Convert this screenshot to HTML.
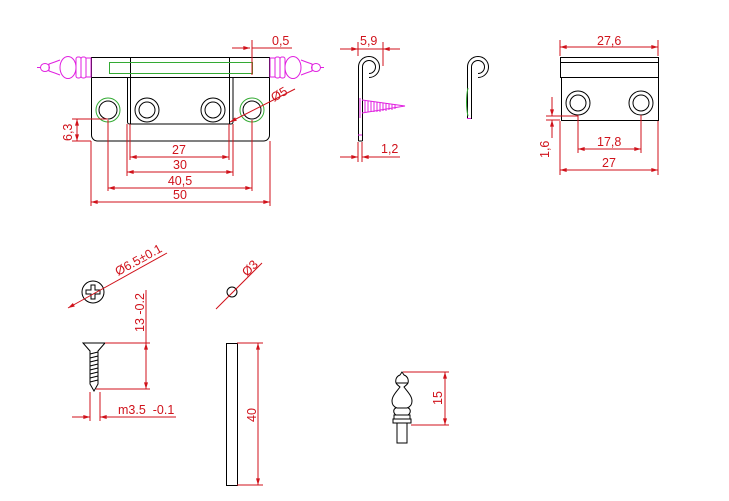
<!DOCTYPE html>
<html><head><meta charset="utf-8"><style>
html,body{margin:0;padding:0;background:#fff;}
svg{display:block;}
text{font-family:"Liberation Sans",sans-serif;font-size:12.5px;fill:#d0121b;}
.r{stroke:#d0121b;stroke-width:1;fill:none;}
.k{stroke:#000;stroke-width:1;fill:none;}
.g{stroke:#3a3;stroke-width:1;fill:none;}
.m{stroke:#e020e0;stroke-width:1;fill:none;}
</style></head><body>
<svg width="729" height="501" viewBox="0 0 729 501" xmlns="http://www.w3.org/2000/svg">
<defs>
<marker id="a" viewBox="0 0 10 6" refX="10" refY="3" markerWidth="8" markerHeight="4" orient="auto-start-reverse"><path d="M0,0L10,3L0,6z" fill="#d0121b"/></marker>
<g id="fin" class="m">
<rect x="86" y="58" width="5" height="19"/>
<rect x="81" y="57" width="5" height="21" rx="2"/>
<rect x="76" y="57" width="5" height="21" rx="2"/>
<ellipse cx="68" cy="67.5" rx="8" ry="11"/>
<path d="M60,60C55,62 52,63 49,64V71C52,72 55,73 60,75"/>
<ellipse cx="45" cy="67.5" rx="4.5" ry="4"/>
<path d="M40.5,67.5H37"/>
</g>
</defs>
<!-- main hinge -->
<g class="k">
<rect x="91.5" y="57.5" width="178" height="20"/>
<path d="M91.5,77.5V135a6,6 0 0 0 6,6H263.5a6,6 0 0 0 6,-6V77.5"/>
<path d="M127.5,78V122a2,2 0 0 0 2,2H231a2,2 0 0 0 2,-2V78"/>
<line x1="130.5" y1="57" x2="130.5" y2="124"/><line x1="229.5" y1="57" x2="229.5" y2="124"/>
<circle cx="147" cy="110" r="12"/><circle cx="147" cy="110" r="8"/>
<circle cx="213" cy="110" r="12"/><circle cx="213" cy="110" r="8"/>
</g>
<rect class="g" x="109.5" y="62.5" width="143" height="11"/>
<g class="g"><circle cx="108" cy="110" r="12"/><circle cx="252" cy="110" r="12"/></g>
<g class="k"><circle cx="108" cy="110" r="9"/><circle cx="252" cy="110" r="9"/></g>
<!-- finials -->
<use href="#fin"/>
<use href="#fin" transform="translate(361,0) scale(-1,1)"/>
<!-- dims main -->
<g class="r">
<line x1="130" y1="124" x2="130" y2="160"/><line x1="229" y1="124" x2="229" y2="160"/>
<line x1="127" y1="124" x2="127" y2="176"/><line x1="233" y1="124" x2="233" y2="176"/>
<line x1="108" y1="120" x2="108" y2="191"/><line x1="252" y1="120" x2="252" y2="191"/>
<line x1="91" y1="141" x2="91" y2="206"/><line x1="270" y1="141" x2="270" y2="206"/>
<line x1="130" y1="157" x2="229" y2="157" marker-start="url(#a)" marker-end="url(#a)"/>
<line x1="127" y1="172" x2="233" y2="172" marker-start="url(#a)" marker-end="url(#a)"/>
<line x1="108" y1="188" x2="252" y2="188" marker-start="url(#a)" marker-end="url(#a)"/>
<line x1="91" y1="202" x2="270" y2="202" marker-start="url(#a)" marker-end="url(#a)"/>
<line x1="72" y1="119" x2="108" y2="119"/><line x1="72" y1="141" x2="91" y2="141"/>
<line x1="77" y1="119" x2="77" y2="141" marker-start="url(#a)" marker-end="url(#a)"/>
<line x1="232" y1="48" x2="250" y2="48" marker-end="url(#a)"/><line x1="252" y1="48" x2="292" y2="48"/>
<line x1="252" y1="40" x2="252" y2="75"/>
<line x1="295" y1="89" x2="230" y2="122" marker-end="url(#a)"/>
</g>
<text x="179" y="154" text-anchor="middle">27</text>
<text x="180" y="169" text-anchor="middle">30</text>
<text x="180" y="185" text-anchor="middle">40,5</text>
<text x="180" y="199" text-anchor="middle">50</text>
<text x="272" y="45">0,5</text>
<text transform="translate(72,141) rotate(-90)">6,3</text>
<text transform="translate(274,102) rotate(-30)">Ø5</text>
<!-- side view 1 -->
<g class="k">
<path d="M358.5,141V67A10.5,10.5 0 1 1 369,77.5"/>
<path d="M362.5,141V67A6.5,6.5 0 1 1 369,73.5"/>
<line x1="358.5" y1="141" x2="362.5" y2="141"/>
</g>
<g class="m">
<path d="M360,98v20M362,100L405,106L362,113M365,101v11M368,101v11M371,101v11M374,102v10M377,102v10M380,102v10M383,103v8M386,103v8M389,104v6M392,104v6M395,105v4"/>
<line x1="358" y1="135" x2="362" y2="135"/>
</g>
<g class="r">
<line x1="358" y1="42" x2="358" y2="56"/><line x1="383" y1="42" x2="383" y2="66"/>
<line x1="340" y1="49" x2="358" y2="49" marker-end="url(#a)"/><line x1="358" y1="49" x2="383" y2="49"/><line x1="400" y1="49" x2="383" y2="49" marker-end="url(#a)"/>
<line x1="358" y1="142" x2="358" y2="162"/><line x1="362" y1="142" x2="362" y2="162"/>
<line x1="340" y1="157" x2="358" y2="157" marker-end="url(#a)"/><line x1="400" y1="157" x2="362" y2="157" marker-end="url(#a)"/>
</g>
<text x="360" y="45">5,9</text>
<text x="381" y="153">1,2</text>
<!-- side view 2 -->
<g class="k">
<path d="M467.5,119V67A10.5,10.5 0 1 1 478,77.5"/>
<path d="M471.5,119V67A6.5,6.5 0 1 1 478,73.5"/>
</g>
<path class="g" d="M468,88c-2,8 -2,20 0,28"/>
<line x1="467" y1="118.5" x2="471" y2="118.5" class="m"/>
<!-- right view -->
<g class="k">
<rect x="560.5" y="57.5" width="98" height="20"/>
<line x1="560" y1="62.5" x2="659" y2="62.5"/>
<path d="M561.5,78V120.5H658.5V78"/>
<circle cx="578" cy="103" r="12"/><circle cx="578" cy="103" r="8"/>
<circle cx="641" cy="103" r="12"/><circle cx="641" cy="103" r="8"/>
</g>
<g class="r">
<line x1="560" y1="40" x2="560" y2="56"/><line x1="658" y1="40" x2="658" y2="56"/>
<line x1="560" y1="47" x2="658" y2="47" marker-start="url(#a)" marker-end="url(#a)"/>
<line x1="578" y1="115" x2="578" y2="153"/><line x1="641" y1="115" x2="641" y2="153"/>
<line x1="578" y1="149" x2="641" y2="149" marker-start="url(#a)" marker-end="url(#a)"/>
<line x1="560" y1="121" x2="560" y2="175"/><line x1="658" y1="121" x2="658" y2="175"/>
<line x1="560" y1="170" x2="658" y2="170" marker-start="url(#a)" marker-end="url(#a)"/>
<line x1="546" y1="116" x2="578" y2="116"/><line x1="546" y1="120" x2="560" y2="120"/>
<line x1="552" y1="97" x2="552" y2="116" marker-end="url(#a)"/><line x1="552" y1="138" x2="552" y2="120" marker-end="url(#a)"/>
</g>
<text x="597" y="45">27,6</text>
<text x="597" y="146">17,8</text>
<text x="602" y="167">27</text>
<text transform="translate(549,158) rotate(-90)">1,6</text>
<!-- screw head -->
<circle class="k" cx="93" cy="292" r="11"/>
<path class="k" d="M91,285h4v5h5v4h-5v5h-4v-5h-5v-4h5z"/>
<line class="r" x1="167" y1="253" x2="68" y2="308" marker-end="url(#a)"/>
<text transform="translate(118,276) rotate(-29)">Ø6.5±0.1</text>
<circle class="k" cx="232" cy="292" r="5"/>
<line class="r" x1="262" y1="263" x2="216" y2="309"/>
<text transform="translate(247,277) rotate(-45)">Ø3</text>
<!-- screw side -->
<g class="k">
<path d="M83,343H105L98,351V384L94,391L90,384V351Z"/>
<path d="M90,354l8,-2M90,358l8,-2M90,362l8,-2M90,366l8,-2M90,370l8,-2M90,374l8,-2M90,378l8,-2M90,382l8,-2"/>
</g>
<g class="r">
<line x1="105" y1="343" x2="150" y2="343"/><line x1="96" y1="389" x2="150" y2="389"/>
<line x1="146" y1="290" x2="146" y2="343"/>
<line x1="146" y1="343" x2="146" y2="389" marker-start="url(#a)" marker-end="url(#a)"/>
<line x1="90" y1="392" x2="90" y2="421"/><line x1="100" y1="392" x2="100" y2="421"/>
<line x1="72" y1="417" x2="90" y2="417" marker-end="url(#a)"/><line x1="176" y1="417" x2="100" y2="417" marker-end="url(#a)"/>
</g>
<text transform="translate(144,332) rotate(-90)">13 -0.2</text>
<text x="118" y="414" xml:space="preserve">m3.5  -0.1</text>
<!-- bar -->
<rect class="k" x="226.5" y="343.5" width="11" height="142"/>
<g class="r">
<line x1="237" y1="343" x2="263" y2="343"/><line x1="237" y1="485" x2="263" y2="485"/>
<line x1="258" y1="343" x2="258" y2="485" marker-start="url(#a)" marker-end="url(#a)"/>
</g>
<text transform="translate(256,422) rotate(-90)">40</text>
<!-- finial -->
<g class="k">
<path d="M402,372l2,3c3,1 5,4 4,8c-1,2 -3,3 -4,4c3,4 8,9 8,14c0,4 -2,6 -5,7H397c-3,-1 -5,-3 -5,-7c0,-5 5,-10 8,-14c-1,-1 -3,-2 -4,-4c-1,-4 1,-7 4,-8z"/>
<path d="M396,408c-3,1 -3,5 0,7H408c3,-2 3,-6 0,-7M394,415h16v4h-16zM393,419h18v4h-18zM397,423h10v20h-10zM396,383h12"/>
</g>
<g class="r">
<line x1="403" y1="372" x2="449" y2="372"/><line x1="411" y1="425" x2="449" y2="425"/>
<line x1="445" y1="372" x2="445" y2="425" marker-start="url(#a)" marker-end="url(#a)"/>
</g>
<text transform="translate(442,405) rotate(-90)">15</text>
</svg>
</body></html>
